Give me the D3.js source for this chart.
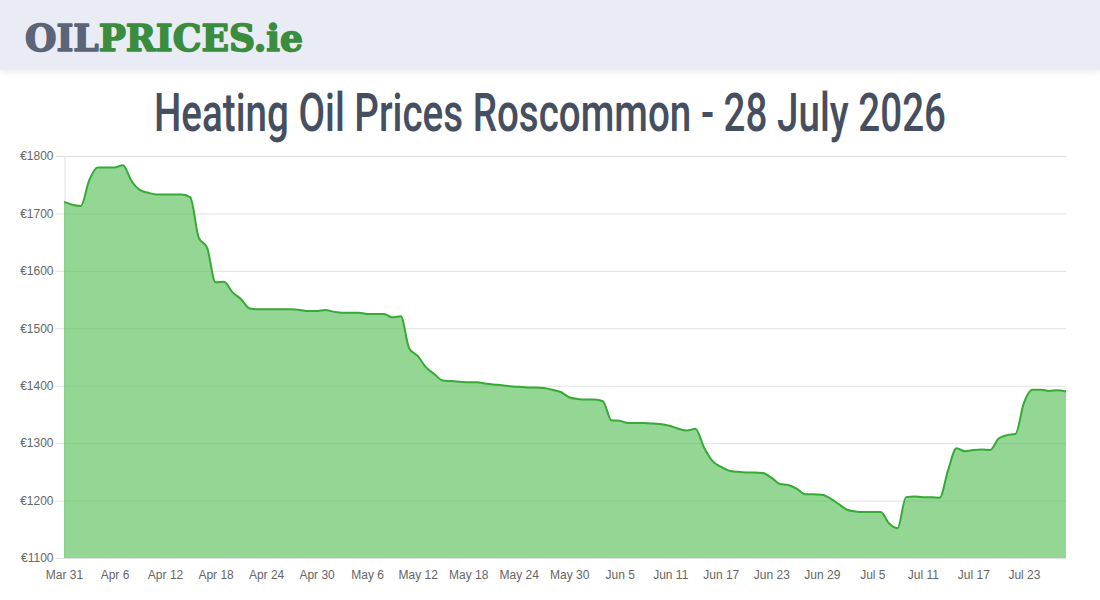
<!DOCTYPE html>
<html>
<head>
<meta charset="utf-8">
<script src="https://cdn.jsdelivr.net/npm/d3@7"></script>
<style>
  html, body { margin: 0; padding: 0; background: #fff; }
  svg { display: block; }
</style>
</head>
<body>
<svg id="chart" width="1100" height="600"></svg>
<script>
// ---- data ----
const startDate = "2026-03-31";
const prices = [
  1720, 1715, 1713, 1758, 1780, 1780, 1780, 1784, 1757, 1741,
  1736, 1733, 1733, 1733, 1733, 1728, 1658, 1640, 1580, 1581,
  1563, 1551, 1535, 1533, 1533, 1533, 1533, 1533, 1532, 1530,
  1530, 1532, 1529, 1527, 1527, 1527, 1525, 1525, 1525, 1519,
  1521, 1465, 1452, 1432, 1420, 1409, 1408, 1407, 1406, 1406,
  1404, 1402, 1401, 1399, 1398, 1397, 1397, 1396, 1393, 1389,
  1380, 1377, 1376, 1376, 1373, 1340, 1339, 1335, 1335, 1335,
  1334, 1333, 1330, 1325, 1322, 1325, 1293, 1269, 1259, 1252,
  1250, 1249, 1249, 1248, 1240, 1229, 1227, 1221, 1211, 1211,
  1210, 1204, 1194, 1184, 1181, 1180, 1180, 1180, 1160, 1152,
  1206, 1207, 1206, 1206, 1205, 1253, 1291, 1286, 1288, 1289,
  1288, 1308, 1314, 1316, 1370, 1393, 1393, 1391, 1392, 1390
];
const xTickLabels = ["Mar 31","Apr 6","Apr 12","Apr 18","Apr 24","Apr 30","May 6","May 12","May 18","May 24",
  "May 30","Jun 5","Jun 11","Jun 17","Jun 23","Jun 29","Jul 5","Jul 11","Jul 17","Jul 23"];
const yTicks = [1100, 1200, 1300, 1400, 1500, 1600, 1700, 1800];
const titleText = "Heating Oil Prices Roscommon - 28 July 2026";

(function () {
// categories (one per day)
const fmt = d3.timeFormat("%b %-d");
const start = d3.timeParse("%Y-%m-%d")(startDate);
const categories = prices.map((_, i) => fmt(d3.timeDay.offset(start, i)));
const data = prices.map((v, i) => ({ cat: categories[i], v }));

const svg = d3.select("#chart");

// ---- header ----
const defs = svg.append("defs");
const sh = defs.append("filter").attr("id", "shadow").attr("x", "-5%").attr("y", "-20%").attr("width", "110%").attr("height", "160%");
sh.append("feDropShadow").attr("dx", 0).attr("dy", 2).attr("stdDeviation", 3).attr("flood-color", "#000").attr("flood-opacity", 0.08);
svg.append("rect").attr("x", 0).attr("y", 0).attr("width", 1100).attr("height", 70)
  .attr("fill", "#e9ecf4").attr("filter", "url(#shadow)");

const logo = svg.append("text").attr("x", 25).attr("y", 51)
  .attr("font-family", "DejaVu Serif").attr("font-weight", "bold").attr("font-size", 37)
  .attr("stroke-width", 1.6).attr("stroke-linejoin", "round")
  .attr("textLength", 278).attr("lengthAdjust", "spacingAndGlyphs");
logo.append("tspan").attr("fill", "#5b6479").attr("stroke", "#5b6479").text("OIL");
logo.append("tspan").attr("fill", "#3a8c3e").attr("stroke", "#3a8c3e").text("PRICES.ie");

svg.append("text").attr("x", 550).attr("y", 131).attr("text-anchor", "middle")
  .attr("font-family", "Roboto, DejaVu Sans Condensed").attr("font-weight", 500).attr("font-size", 53)
  .attr("fill", "#454f5f")
  .attr("textLength", 792).attr("lengthAdjust", "spacingAndGlyphs")
  .text(titleText);

// ---- scales ----
const mLeft = 64, mRight = 1066, mTop = 156, mBottom = 558;
const x = d3.scalePoint().domain(categories).range([mLeft, mRight]);
const y = d3.scaleLinear().domain([1100, 1800]).range([mBottom, mTop]);

// grid lines
svg.append("g").selectAll("line").data(yTicks).join("line")
  .attr("x1", mLeft).attr("x2", mRight)
  .attr("y1", d => y(d) + 0.5).attr("y2", d => y(d) + 0.5)
  .attr("stroke", "#e1e1e1").attr("stroke-width", 1);

// y axis
const yAxis = svg.append("g").attr("transform", `translate(${mLeft + 0.5},0)`)
  .call(d3.axisLeft(y).tickValues(yTicks).tickSize(9).tickPadding(2).tickFormat(d => "€" + d));
yAxis.select(".domain").attr("stroke", "#e1e1e1");
yAxis.selectAll(".tick line").attr("stroke", "#e1e1e1");
yAxis.selectAll(".tick text").attr("font-family", "Liberation Sans, Arial").attr("font-size", 12).attr("fill", "#666");

// x axis
const xAxis = svg.append("g").attr("transform", `translate(0,${mBottom})`)
  .call(d3.axisBottom(x).tickValues(xTickLabels).tickSize(0).tickPadding(12));
xAxis.select(".domain").remove();
xAxis.selectAll(".tick text").attr("font-family", "Liberation Sans, Arial").attr("font-size", 12).attr("fill", "#666");

// area + line
const curve = d3.curveMonotoneX;
const area = d3.area().x(d => x(d.cat)).y0(mBottom).y1(d => y(d.v)).curve(curve);
const line = d3.line().x(d => x(d.cat)).y(d => y(d.v)).curve(curve);

svg.append("path").datum(data).attr("d", area).attr("fill", "rgba(76,187,76,0.6)");
svg.append("path").datum(data).attr("d", line).attr("fill", "none")
  .attr("stroke", "#35aa35").attr("stroke-width", 2);
})();
</script>
</body>
</html>
